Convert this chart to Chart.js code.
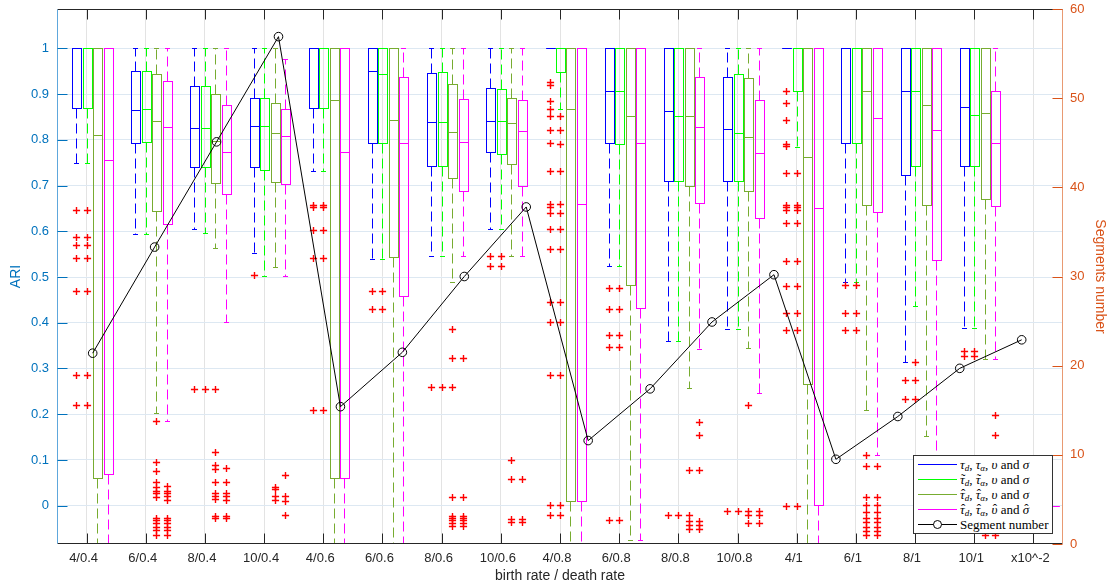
<!DOCTYPE html>
<html>
<head>
<meta charset="utf-8">
<script src="https://cdn.jsdelivr.net/npm/chart.js@4.4.1/dist/chart.umd.min.js"></script>
<style>
html,body{margin:0;padding:0;background:#fff;}
#wrap{position:relative;width:1111px;height:585px;overflow:hidden;}
#c{position:absolute;left:0;top:0;}
#legend{position:absolute;left:913px;top:455px;width:140px;height:79px;box-sizing:border-box;background:#fff;border:1px solid #333;
  font-family:'Liberation Serif','DejaVu Serif','Times New Roman',serif;font-size:13px;color:#000;}
#legend .row{position:absolute;left:0;height:15px;line-height:15px;white-space:nowrap;}
#legend .sw{position:absolute;left:4px;top:7px;width:39px;height:1px;}
#legend .tx{position:absolute;left:46px;top:0;}
#legend sub{font-size:9px;vertical-align:-2px;line-height:0;}
#legend .acc{position:relative;display:inline-block;}
#legend .mk{position:absolute;left:1px;right:0;top:-1px;text-align:center;font-style:normal;}
#legend .circ{position:absolute;left:19px;top:3px;width:9px;height:9px;border:1px solid #000;border-radius:50%;background:#fff;box-sizing:border-box;}
</style>
</head>
<body>
<div id="wrap">
<canvas id="c" width="1111" height="585"></canvas>
<div id="legend">
  <div class="row" style="top:1px"><span class="sw" style="background:#0000ff"></span><span class="tx"><i>τ</i><sub><i>d</i></sub>, <i>τ</i><sub><i>α</i></sub>, <i>υ</i> and <i>σ</i></span></div>
  <div class="row" style="top:16px"><span class="sw" style="background:#00ff00"></span><span class="tx"><span class="acc"><i>τ</i><span class="mk">˜</span></span><sub><i>d</i></sub>, <span class="acc"><i>τ</i><span class="mk">˜</span></span><sub><i>α</i></sub>, <i>υ</i> and <i>σ</i></span></div>
  <div class="row" style="top:31px"><span class="sw" style="background:#77ac30"></span><span class="tx"><span class="acc"><i>τ</i><span class="mk">ˆ</span></span><sub><i>d</i></sub>, <span class="acc"><i>τ</i><span class="mk">ˆ</span></span><sub><i>α</i></sub>, <i>υ</i> and <i>σ</i></span></div>
  <div class="row" style="top:46px"><span class="sw" style="background:#ff00ff"></span><span class="tx"><span class="acc"><i>τ</i><span class="mk">ˆ</span></span><sub><i>d</i></sub>, <span class="acc"><i>τ</i><span class="mk">ˆ</span></span><sub><i>α</i></sub>, <span class="acc"><i>υ</i><span class="mk">ˆ</span></span> and <span class="acc"><i>σ</i><span class="mk">ˆ</span></span></span></div>
  <div class="row" style="top:61px"><span class="sw" style="background:#000"></span><span class="circ"></span><span class="tx">Segment number</span></div>
</div>
</div>
<script>
// ---------------- DATA ----------------
const groupLabels = ['4/0.4','6/0.4','8/0.4','10/0.4','4/0.6','6/0.6','8/0.6','10/0.6',
                     '4/0.8','6/0.8','8/0.8','10/0.8','4/1','6/1','8/1','10/1','x10^-2'];
const ariTicks = [0,0.1,0.2,0.3,0.4,0.5,0.6,0.7,0.8,0.9,1];
const ariTickLabels = ['0','0.1','0.2','0.3','0.4','0.5','0.6','0.7','0.8','0.9','1'];
const segTicks = [0,10,20,30,40,50,60];

// Segment number (right axis), one per group
const segmentNumber = [21.4,33.3,45.1,56.9,15.4,21.5,30.0,37.8,11.6,17.4,24.9,30.2,9.5,14.3,19.7,22.9];

// Series 1: tau_d, tau_alpha, v and sigma (blue)
const blueLow  = [0.750,0.595,0.606,0.552,0.732,0.539,0.547,0.605,1,0.523,0.361,0.386,1,0.490,0.315,0.389,null];
const blueQ1   = [0.870,0.792,0.740,0.741,0.870,0.792,0.743,0.774,1,0.792,0.710,0.710,1,0.793,0.723,0.742,null];
const blueMed  = [1,0.865,0.825,0.830,1,0.950,0.839,0.840,1,0.906,0.862,0.824,1,1,0.906,0.871,null];
const blueQ3   = [1,0.950,0.917,0.892,1,1,0.945,0.914,1,1,1,0.938,1,1,1,1,null];
const blueHigh = [1,1,1,1,1,1,1,1,1,1,1,1,1,1,1,1,null];
const blueOut  = [[0.646,0.587,0.571,0.542,0.470,0.285,0.220],[],[0.256],[0.504],
  [0.657,0.652,0.603,0.541,0.210],[0.469,0.429],[0.260],[0.546,0.523],
  [0.926,0.919,0.884,0.868,0.851,0.821,0.792,0.732,0.659,0.653,0.639,0.606,0.561,0.445,0.401,0.285,0.001,-0.020],
  [0.477,0.429,0.373,0.348,-0.031],[-0.021],[-0.011],
  [0.907,0.881,0.843,0.790,0.786,0.728,0.657,0.652,0.646,0.619,0.536,0.480,0.421,0.384,0.0],
  [0.483,0.422,0.384],[0.274,0.233],[0.338,0.328],[]];

// Series 2: tilde tau_d, tilde tau_alpha, v and sigma (green)
const greenLow  = [0.750,0.595,0.597,0.502,0.732,0.539,0.547,0.605,0.868,0.523,0.361,0.386,0.785,0.490,0.437,0.389,null];
const greenQ1   = [0.870,0.795,0.740,0.735,0.870,0.792,0.743,0.768,0.948,0.790,0.710,0.710,0.906,0.793,0.743,0.742,null];
const greenMed  = [1,0.867,0.825,0.830,1,0.943,0.839,0.840,1,0.907,0.853,0.814,1,1,0.906,0.854,null];
const greenQ3   = [1,0.950,0.917,0.892,1,1,0.948,0.910,1,1,1,0.943,1,1,1,1,null];
const greenHigh = [1,1,1,1,1,1,1,1,1,1,1,1,1,1,1,1,null];
const greenOut  = [[0.646,0.587,0.571,0.542,0.470,0.285,0.220],[],[0.256],[],
  [0.657,0.652,0.603,0.541,0.210],[0.469,0.429],[0.260],[0.546,0.523],
  [0.851,0.821,0.790,0.732,0.659,0.639,0.606,0.561,0.445,0.401,0.285,0.001,-0.020],
  [0.477,0.429,0.373,0.348,-0.031],[-0.021],[-0.011],
  [0.728,0.657,0.652,0.646,0.619,0.536,0.480,0.421,0.384,0.0],
  [0.483,0.422,0.384],[0.315,0.274,0.233],[0.338,0.328],[]];

// Series 3: hat tau_d, hat tau_alpha, v and sigma (olive)
const oliveLow  = [-0.1,0.202,0.564,0.521,-0.1,-0.1,0.488,0.547,-0.1,-0.076,0.258,0.344,-0.1,0.210,0.153,0.321,null];
const oliveQ1   = [0.060,0.645,0.705,0.708,0.060,0.543,0.716,0.747,0.011,0.483,0.700,0.687,0.266,0.657,0.657,0.670,null];
const oliveMed  = [0.810,0.842,0.797,0.814,0.888,0.844,0.817,0.836,0.868,0.852,0.852,0.807,0.763,0.906,0.877,0.859,null];
const oliveQ3   = [1,0.943,0.901,0.881,1,1,0.921,0.892,1,1,1,0.934,1,1,1,1,null];
const oliveHigh = [1,1,1,1,1,1,1,1,1,1,1,1,1,1,1,1,null];
const oliveOut  = [[],
  [0.186,0.095,0.075,0.051,0.042,0.033,0.028,0.019,-0.027,-0.032,-0.038,-0.047,-0.054,-0.063],
  [0.256,0.117,0.088,0.081,0.051,0.028,0.022,0.015,-0.022,-0.027],
  [0.042,0.036,0.022,0.013],[],[],
  [0.387,0.322,0.260,0.019,-0.022,-0.027,-0.032,-0.038,-0.045],
  [0.099,0.059,-0.029,-0.036],[],[],
  [0.077,-0.021,-0.033,-0.043,-0.052],
  [0.220,-0.011,-0.020,-0.038],[],
  [0.111,0.086,0.020,0.001,-0.014,-0.027,-0.036,-0.046,-0.056,-0.064],
  [],[0.105,-0.065],[]];

// Series 4: hat tau_d, hat tau_alpha, hat v and hat sigma (magenta)
const magentaLow  = [-0.1,0.186,0.401,0.502,-0.1,-0.1,0.547,0.547,-0.1,-0.076,0.343,0.246,-0.1,0.111,0.05,0.321,0];
const magentaQ1   = [0.070,0.615,0.681,0.703,0.060,0.459,0.687,0.699,0.011,0.432,0.662,0.630,0.001,0.643,0.537,0.656,0];
const magentaMed  = [0.755,0.828,0.774,0.808,0.773,0.792,0.796,0.819,0.659,0.794,0.828,0.770,0.650,0.847,0.821,0.794,0];
const magentaQ3   = [1,0.928,0.875,0.868,1,0.938,0.890,0.886,1,1,0.938,0.886,1,1,1,0.906,0];
const magentaHigh = [1,1,1,0.977,1,1,1,1,1,1,1,1,1,1,1,1,0];
const magentaOut  = [[],
  [0.044,0.033,0.028,0.021,0.013,-0.027,-0.032,-0.038,-0.047,-0.054,-0.063],
  [0.082,0.051,0.028,0.021,0.012,-0.022,-0.027],
  [0.068,0.021,0.010,-0.021],[],[],
  [0.322,0.019,-0.022,-0.027,-0.032,-0.038,-0.045],
  [0.059,-0.029,-0.036],[],[],
  [0.184,0.154,0.077,-0.033,-0.043,-0.052],
  [-0.011,-0.020,-0.038],[],
  [0.086,0.020,0.001,-0.014,-0.027,-0.036,-0.046,-0.056,-0.064],
  [],[0.199,0.154,-0.065],[]];

// ---------------- STYLE ----------------
const FONT = "'Liberation Sans', Helvetica, Arial, sans-serif";
const series = [
  {color:'#0000ff', low:blueLow, q1:blueQ1, med:blueMed, q3:blueQ3, high:blueHigh, out:blueOut},
  {color:'#00ff00', low:greenLow, q1:greenQ1, med:greenMed, q3:greenQ3, high:greenHigh, out:greenOut},
  {color:'#77ac30', low:oliveLow, q1:oliveQ1, med:oliveMed, q3:oliveQ3, high:oliveHigh, out:oliveOut},
  {color:'#ff00ff', low:magentaLow, q1:magentaQ1, med:magentaMed, q3:magentaQ3, high:magentaHigh, out:magentaOut}
];
const SERIES_STEP = 0.1774;   // offset between boxes in a group (x units)
const BOX_HALF = 0.0735;
const CAP_HALF = 0.039;

const boxPlugin = {
  id: 'boxes',
  beforeDatasetsDraw(chart) {
    const {ctx, chartArea: a, scales} = chart;
    const x = scales.x, y = scales.y;
    const unit = x.getPixelForValue(1) - x.getPixelForValue(0);
    ctx.save();
    ctx.beginPath(); ctx.rect(a.left, a.top, a.right - a.left, a.bottom - a.top); ctx.clip();
    ctx.lineWidth = 1;
    const py = v => Math.round(y.getPixelForValue(v)) + 0.5;
    series.forEach((s, si) => {
      ctx.strokeStyle = s.color;
      for (let g = 0; g < s.q1.length; g++) {
        if (s.q1[g] == null) continue;
        const xc = Math.round(x.getPixelForValue(g + 1 + (si - 1) * SERIES_STEP)) + 0.5;
        const hw = BOX_HALF * unit, cw = CAP_HALF * unit;
        const yLow = py(s.low[g]), yQ1 = py(s.q1[g]), yMed = py(s.med[g]), yQ3 = py(s.q3[g]), yHigh = py(s.high[g]);
        ctx.setLineDash([10, 5]);
        ctx.beginPath();
        if (yHigh < yQ3) { ctx.moveTo(xc, yQ3); ctx.lineTo(xc, yHigh); }
        if (yLow > yQ1) { ctx.moveTo(xc, yQ1); ctx.lineTo(xc, yLow); }
        ctx.stroke();
        ctx.setLineDash([]);
        ctx.beginPath();
        ctx.moveTo(Math.round(xc - cw), yHigh); ctx.lineTo(Math.round(xc + cw), yHigh);
        ctx.moveTo(Math.round(xc - cw), yLow); ctx.lineTo(Math.round(xc + cw), yLow);
        ctx.stroke();
        const l = Math.round(xc - hw) + 0.5, r = Math.round(xc + hw) + 0.5;
        ctx.strokeRect(l, yQ3, r - l, yQ1 - yQ3);
        ctx.beginPath(); ctx.moveTo(l, yMed); ctx.lineTo(r, yMed); ctx.stroke();
      }
    });
    // outliers
    ctx.strokeStyle = '#ff0000';
    ctx.lineWidth = 1.4;
    series.forEach((s, si) => {
      s.out.forEach((list, g) => {
        const xc = Math.round(x.getPixelForValue(g + 1 + (si - 1) * SERIES_STEP)) + 0.5;
        list.forEach(v => {
          const yy = py(v);
          ctx.beginPath();
          ctx.moveTo(xc - 3.6, yy); ctx.lineTo(xc + 3.6, yy);
          ctx.moveTo(xc, yy - 3.6); ctx.lineTo(xc, yy + 3.6);
          ctx.stroke();
        });
      });
    });
    ctx.restore();
  },
  afterDraw(chart) {
    const {ctx, chartArea: a, scales} = chart;
    const L = Math.round(a.left) + 0.5, R = Math.round(a.right) - 0.5;
    const T = Math.round(a.top) + 0.5, B = Math.round(a.bottom) - 0.5;
    ctx.save();
    ctx.lineWidth = 1;
    ctx.strokeStyle = '#262626';
    ctx.beginPath(); ctx.moveTo(L, T); ctx.lineTo(R, T); ctx.moveTo(L, B); ctx.lineTo(R, B); ctx.stroke();
    ctx.strokeStyle = '#5ea7dc';
    ctx.beginPath(); ctx.moveTo(L, T); ctx.lineTo(L, B); ctx.stroke();
    ctx.strokeStyle = '#e89a72';
    ctx.beginPath(); ctx.moveTo(R, T); ctx.lineTo(R, B); ctx.stroke();
    ctx.strokeStyle = '#262626';
    ctx.beginPath();
    groupLabels.forEach((_, i) => {
      const px = Math.round(scales.x.getPixelForValue(i + 1)) + 0.5;
      ctx.moveTo(px, B); ctx.lineTo(px, B - 10);
      ctx.moveTo(px, T); ctx.lineTo(px, T + 10);
    });
    ctx.stroke();
    ctx.strokeStyle = '#0072bd';
    ctx.beginPath();
    ariTicks.forEach(v => {
      const yy = Math.round(scales.y.getPixelForValue(v)) + 0.5;
      ctx.moveTo(L, yy); ctx.lineTo(L + 10, yy);
    });
    ctx.stroke();
    ctx.strokeStyle = '#d95319';
    ctx.beginPath();
    segTicks.forEach(v => {
      const yy = Math.round(scales.ySeg.getPixelForValue(v)) + 0.5;
      ctx.moveTo(R, yy); ctx.lineTo(R - 10, yy);
    });
    ctx.stroke();
    ctx.restore();
  }
};

const noPad = s => { s.paddingTop = 0; s.paddingBottom = 0; s.paddingLeft = 0; s.paddingRight = 0; };

new Chart(document.getElementById('c'), {
  type: 'line',
  data: {
    datasets: [{
      label: 'Segment number',
      data: segmentNumber.map((v, i) => ({x: i + 1, y: v})),
      xAxisID: 'xLine',
      yAxisID: 'ySeg',
      borderColor: '#000',
      borderWidth: 1,
      pointRadius: 4.3,
      pointBorderWidth: 1,
      pointBorderColor: '#000',
      pointBackgroundColor: 'rgba(0,0,0,0)',
      tension: 0,
      fill: false
    }]
  },
  options: {
    responsive: false,
    animation: false,
    events: [],
    layout: {padding: {top: 9, left: 0, right: 0, bottom: 0}},
    plugins: {legend: {display: false}, tooltip: {enabled: false}},
    scales: {
      x: {
        type: 'linear', position: 'bottom', min: 0.5, max: 17.5,
        afterBuildTicks: s => { s.ticks = groupLabels.map((_, i) => ({value: i + 1})); },
        ticks: {
          callback: (v, i) => groupLabels[i],
          color: '#262626', font: {family: FONT, size: 13}, padding: 7,
          maxRotation: 0, autoSkip: false, labelOffset: -3
        },
        grid: {color: '#e3e3e3', drawTicks: false},
        border: {display: false},
        title: {display: true, text: 'birth rate / death rate', color: '#262626',
                font: {family: FONT, size: 14}, padding: {top: 0, bottom: 0}},
        afterFit: s => { s.height = 41; noPad(s); }
      },
      xLine: {type: 'linear', display: false, min: 0.4237, max: 16.667},
      y: {
        type: 'linear', position: 'left', min: -0.0837, max: 1.0859,
        afterBuildTicks: s => { s.ticks = ariTicks.map(v => ({value: v})); },
        ticks: {callback: (v, i) => ariTickLabels[i], color: '#0072bd', font: {family: FONT, size: 13}, padding: 8},
        grid: {color: '#dde8f2', drawTicks: false},
        border: {display: false},
        title: {display: true, text: 'ARI', color: '#0072bd', font: {family: FONT, size: 14}, padding: {top: 7.6, bottom: 0}},
        afterFit: s => { s.width = 57; noPad(s); }
      },
      ySeg: {
        type: 'linear', position: 'right', min: 0, max: 60,
        afterBuildTicks: s => { s.ticks = segTicks.map(v => ({value: v})); },
        ticks: {color: '#d95319', font: {family: FONT, size: 13}, padding: 7},
        grid: {drawOnChartArea: false, drawTicks: false},
        border: {display: false},
        title: {display: true, text: 'Segments number', color: '#d95319', font: {family: FONT, size: 14}, padding: {top: 2.6, bottom: 0}},
        afterFit: s => { s.width = 48; noPad(s); }
      }
    }
  },
  plugins: [boxPlugin]
});
</script>
</body>
</html>
